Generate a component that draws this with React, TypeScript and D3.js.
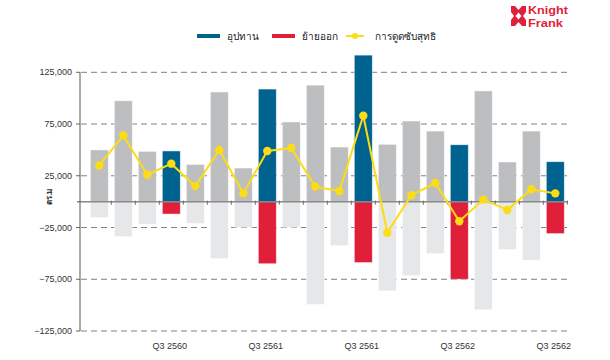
import React from "react";
import * as d3 from "d3";

const categories = [
  "Q4 2559", "Q1 2560", "Q2 2560", "Q3 2560",
  "Q4 2560", "Q1 2561", "Q2 2561", "Q3 2561",
  "Q4 2561", "Q1 2562", "Q2 2562", "Q3 2562a",
  "Q4 2562", "Q1 2563", "Q2 2563", "Q3 2563",
  "Q4 2563", "Q1 2564", "Q2 2564", "Q3 2564",
];
const supply = [
  50000, 97500, 48600, 49000, 36000, 106000, 32500, 108800, 77000, 112600,
  52800, 141600, 55400, 77900, 68200, 55000, 107000, 38300, 68200, 38600,
];
const vacated = [
  -15400, -33800, -22000, -12000, -21000, -55000, -24700, -60000, -24700, -99400,
  -42500, -58900, -86200, -71400, -50200, -75000, -104500, -46300, -56600, -30900,
];
const netAbsorption = [
  35000, 64000, 26000, 36700, 15000, 50000, 8000, 49000, 51800, 14500,
  10300, 83000, -30000, 6200, 18000, -19000, 2000, -8000, 12000, 8000,
];
const highlightIdx = [3, 7, 11, 15, 19];
const tickLabels = ["Q3 2560", "Q3 2561", "Q3 2561", "Q3 2562", "Q3 2562"];
const yTicks = [125000, 75000, 25000, -25000, -75000, -125000];
const legendLabels = ["อุปทาน", "ย้ายออก", "การดูดซับสุทธิ"];

const BLUE = "#00628f";
const RED = "#e01f3a";
const GRAY = "#bdbec0";
const LIGHT = "#e6e7e8";
const YELLOW = "#fcdc14";
const FONT = "'Liberation Sans', Arial, Helvetica, sans-serif";

export default function App() {
  const W = 610, H = 360;
  const x = d3.scaleBand<string>().domain(categories).range([87.3, 567.3]).paddingInner(0.25).paddingOuter(0.125);
  const y = d3.scaleLinear().domain([-125000, 125000]).range([331, 72.3]);
  const y0 = y(0);
  const bw = x.bandwidth();
  const step = x.step();
  const cx = (i: number) => (x(categories[i]) as number) + bw / 2;
  const line = d3.line<number>().x((_, i) => cx(i)).y((d) => y(d));
  const fmt = d3.format(",");

  return (
    <div style={{ position: "fixed", left: 0, top: 0, width: W, height: H, background: "#fff" }}>
      <svg width={W} height={H} style={{ display: "block" }} fontFamily={FONT}>
        {/* logo */}
        <g>
          <rect x={511} y={6} width={15} height={20} fill={RED} />
          <path d="M511,12 L514,16 L511,20 Z M526,12 L523,16 L526,20 Z M515,6 L518.5,10 L522,6 Z M515,26 L518.5,22 L522,26 Z M518.5,12.5 L521.5,16 L518.5,19.5 L515.5,16 Z" fill="#fff" />
          <text x={528} y={14} fontSize={10.5} fontWeight="bold" fill={RED} textLength={40} lengthAdjust="spacingAndGlyphs">Knight</text>
          <text x={528} y={26.5} fontSize={10.5} fontWeight="bold" fill={RED} textLength={35} lengthAdjust="spacingAndGlyphs">Frank</text>
        </g>

        {/* legend */}
        <g fontSize={10} fill="#222">
          <line x1={197} x2={220} y1={36} y2={36} stroke={BLUE} strokeWidth={4} />
          <text x={227} y={39.5}>{legendLabels[0]}</text>
          <line x1={272} x2={295} y1={36} y2={36} stroke={RED} strokeWidth={4} />
          <text x={302} y={39.5}>{legendLabels[1]}</text>
          <line x1={346} x2={364} y1={36} y2={36} stroke={YELLOW} strokeWidth={2} />
          <circle cx={355} cy={36} r={3} fill={YELLOW} />
          <text x={375} y={39.5}>{legendLabels[2]}</text>
        </g>

        {/* gridlines */}
        {yTicks.map((t) => (
          <g key={t}>
            <line x1={81} x2={568} y1={y(t)} y2={y(t)} stroke="#808080" strokeWidth={1} strokeDasharray="6,4" />
            <line x1={76} x2={80} y1={y(t)} y2={y(t)} stroke="#666" strokeWidth={1} />
            <text x={72} y={y(t) + 3} fontSize={9} textAnchor="end" fill="#333">{fmt(t)}</text>
          </g>
        ))}

        {/* bars */}
        {categories.map((c, i) => {
          const hl = highlightIdx.includes(i);
          const bx = x(c) as number;
          return (
            <g key={c}>
              <rect x={bx} y={y(supply[i])} width={bw} height={y0 - y(supply[i])} fill={hl ? BLUE : GRAY} stroke="#fff" strokeOpacity={0.6} strokeWidth={0.8} />
              <rect x={bx} y={y0} width={bw} height={y(vacated[i]) - y0} fill={hl ? RED : LIGHT} stroke="#fff" strokeOpacity={0.6} strokeWidth={0.8} />
            </g>
          );
        })}

        {/* zero line */}
        <line x1={77} x2={568} y1={y0} y2={y0} stroke="#8a8a8a" strokeWidth={1.5} />
        {categories.map((c, i) => (
          <line key={"t" + c} x1={(x(c) as number) - (step - bw) / 2 + step} x2={(x(c) as number) - (step - bw) / 2 + step} y1={y0 - 1} y2={y0 + 3} stroke="#666" strokeWidth={1} />
        ))}

        {/* y axis */}
        <line x1={80} x2={80} y1={y(125000)} y2={y(-125000)} stroke="#555" strokeWidth={1} />
        <text transform={`translate(52,${y0 - 5}) rotate(-90)`} fontSize={8} fontWeight="bold" textAnchor="middle" fill="#333">ตร.ม</text>

        {/* x labels */}
        {highlightIdx.map((idx, k) => (
          <text key={"xl" + k} x={cx(idx) - 1.5} y={349} fontSize={9} textAnchor="middle" fill="#333">{tickLabels[k]}</text>
        ))}

        {/* net absorption line */}
        <path d={line(netAbsorption) || ""} fill="none" stroke={YELLOW} strokeWidth={2} />
        {netAbsorption.map((v, i) => (
          <circle key={"p" + i} cx={cx(i)} cy={y(v)} r={4.2} fill={YELLOW} />
        ))}
      </svg>
    </div>
  );
}
